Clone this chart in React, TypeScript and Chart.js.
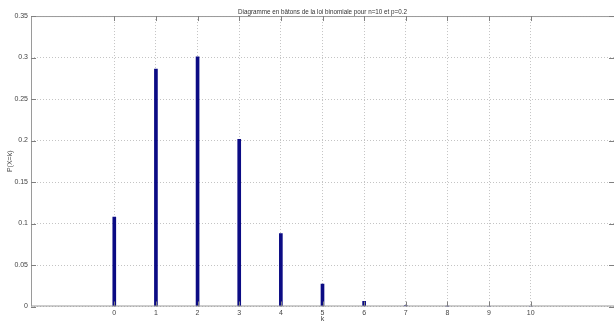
import React, { useEffect, useRef } from "react";
import { Chart, registerables } from "chart.js";

Chart.register(...registerables);

const categories = [0, 1, 2, 3, 4, 5, 6, 7, 8, 9, 10];
const probabilities = [0.1077, 0.286, 0.301, 0.2015, 0.0878, 0.027, 0.0062, 0.0011, 0.0001, 0.0, 0.0];
const yTicks = [0, 0.05, 0.1, 0.15, 0.2, 0.25, 0.3, 0.35];
const titleText = "Diagramme en bâtons de la loi binomiale pour n=10 et p=0.2";
const xLabel = "k";
const yLabel = "P(X=k)";

const FONT = "'Liberation Sans', Arial, sans-serif";

const boxPlugin = {
  id: "matlabBox",
  afterDraw(chart: any) {
    const { ctx, chartArea } = chart;
    const { left, right, top, bottom } = chartArea;
    const xs = chart.scales.x;
    const ys = chart.scales.y;
    ctx.save();
    ctx.strokeStyle = "#9a9a9a";
    ctx.lineWidth = 1;
    ctx.beginPath();
    ctx.rect(left + 0.5, top + 0.5, right - left, bottom - top - 1);
    ctx.stroke();
    ctx.strokeStyle = "#808080";
    ctx.beginPath();
    const tl = 5;
    categories.forEach((c) => {
      const px = Math.round(xs.getPixelForValue(c)) + 0.5;
      ctx.moveTo(px, bottom);
      ctx.lineTo(px, bottom - tl);
      ctx.moveTo(px, top);
      ctx.lineTo(px, top + tl);
    });
    yTicks.forEach((v) => {
      const py = Math.round(ys.getPixelForValue(v)) + 0.5;
      ctx.moveTo(left, py);
      ctx.lineTo(left + tl, py);
      ctx.moveTo(right, py);
      ctx.lineTo(right - tl, py);
    });
    ctx.stroke();
    ctx.restore();
  },
};

const whiteBg = {
  id: "whiteBg",
  beforeDraw(chart: any) {
    chart.ctx.save();
    chart.ctx.fillStyle = "#fff";
    chart.ctx.fillRect(0, 0, chart.width, chart.height);
    chart.ctx.restore();
  },
};

export default function App() {
  const ref = useRef<HTMLCanvasElement>(null);
  useEffect(() => {
    if (!ref.current) return;
    const chart = new Chart(ref.current, {
      type: "bar",
      data: {
        datasets: [
          {
            data: categories.map((c, i) => ({ x: c, y: probabilities[i] })),
            backgroundColor: "#0b0b84",
            borderWidth: 0,
            barThickness: 3,
          } as any,
        ],
      },
      options: {
        animation: false,
        responsive: false,
        maintainAspectRatio: false,
        layout: { padding: 0 },
        plugins: {
          legend: { display: false },
          tooltip: { enabled: false },
          title: {
            display: true,
            fullSize: false,
            text: titleText,
            color: "#333",
            font: { family: FONT, size: 6.3, weight: "normal" },
            padding: { top: 8, bottom: 0.5 },
          },
        },
        scales: {
          x: {
            type: "linear",
            min: -2,
            max: 12,
            offset: false,
            afterBuildTicks: (s: any) => {
              s.ticks = categories.map((c) => ({ value: c }));
            },
            afterFit: (s: any) => {
              s.height = 16.5;
            },
            ticks: {
              color: "#444",
              font: { family: FONT, size: 7 },
              padding: 2,
              maxRotation: 0,
              autoSkip: false,
              callback: (v: any) => String(v),
            },
            grid: {
              offset: false,
              color: "#c4c4c4",
              lineWidth: 1,
              drawTicks: false,
            },
            border: { display: false, dash: [1, 2] },
            title: {
              display: true,
              text: xLabel,
              color: "#444",
              font: { family: FONT, size: 7 },
              padding: 0,
            },
          } as any,
          y: {
            type: "linear",
            min: 0,
            max: 0.35,
            afterBuildTicks: (s: any) => {
              s.ticks = yTicks.map((v) => ({ value: v }));
            },
            afterFit: (s: any) => {
              s.width = 31;
            },
            ticks: {
              color: "#444",
              font: { family: FONT, size: 7 },
              padding: 3,
              callback: (v: any) => String(parseFloat(Number(v).toFixed(2))),
            },
            grid: {
              color: "#c4c4c4",
              lineWidth: 1,
              drawTicks: false,
            },
            border: { display: false, dash: [1, 2] },
            title: {
              display: true,
              text: yLabel,
              color: "#444",
              font: { family: FONT, size: 7 },
              padding: { top: 6, bottom: 0 },
            },
          } as any,
        },
      },
      plugins: [whiteBg, boxPlugin],
    });
    return () => chart.destroy();
  }, []);
  return (
    <div style={{ position: "absolute", left: 0, top: 0, width: 614, height: 323, background: "#fff" }}>
      <canvas ref={ref} width={614} height={323} style={{ width: 614, height: 323 }} />
    </div>
  );
}
